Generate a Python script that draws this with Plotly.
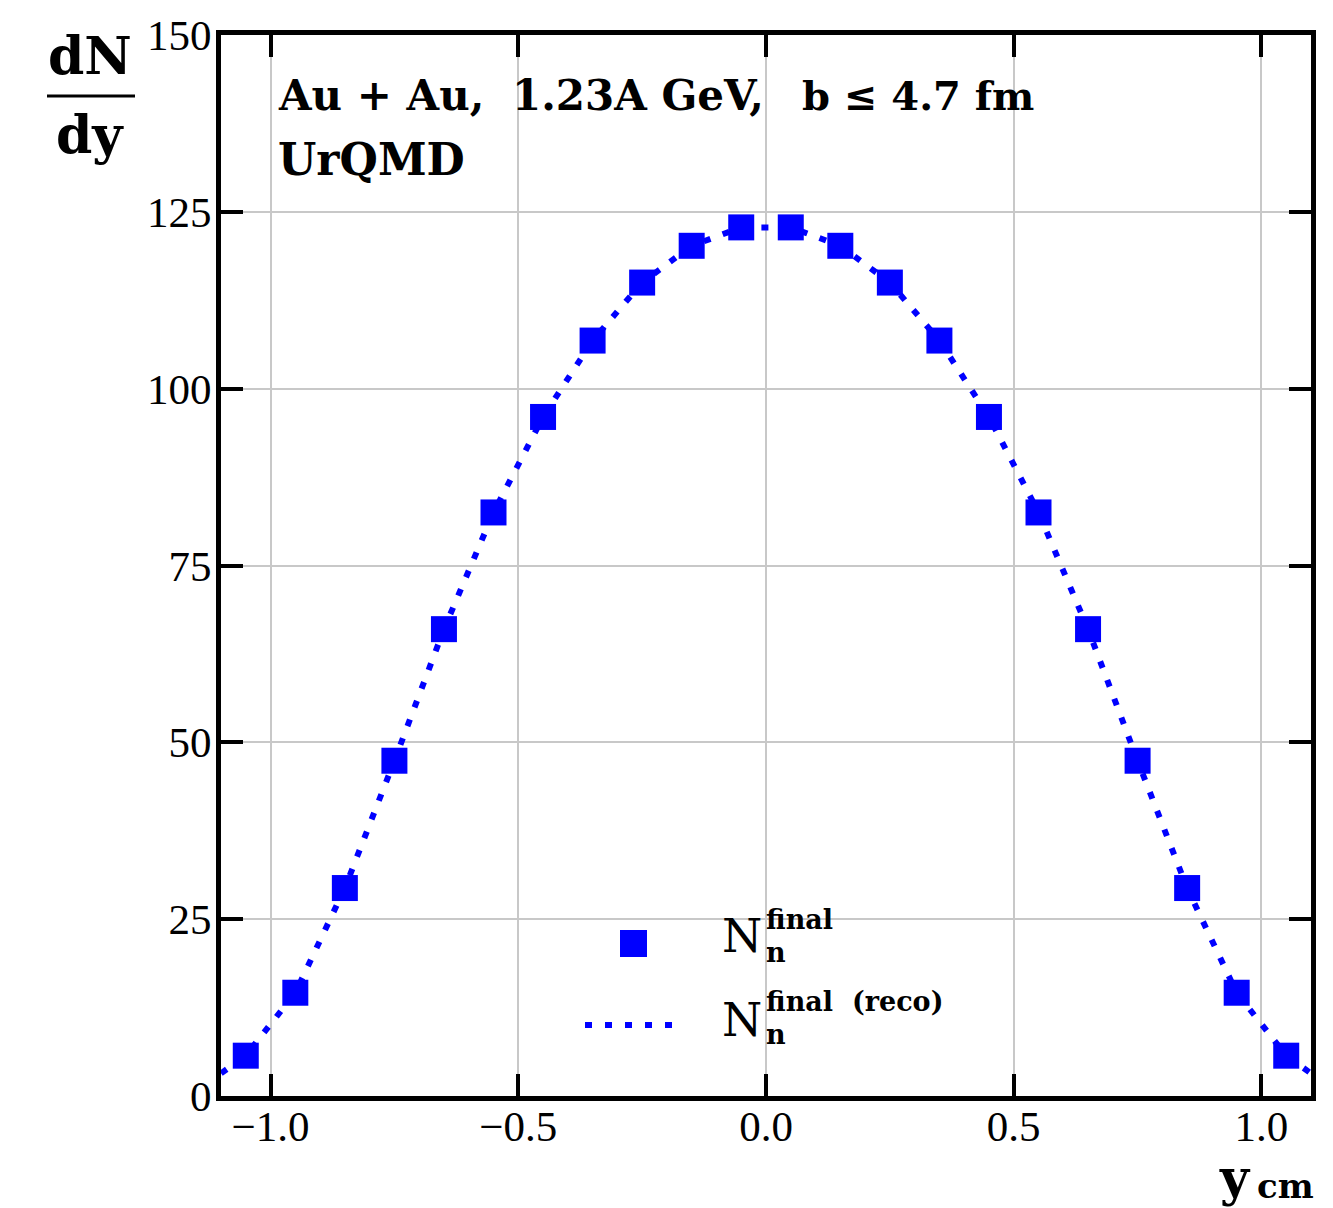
import plotly.graph_objects as go

y_cm = [-1.05, -0.95, -0.85, -0.75, -0.65, -0.55, -0.45, -0.35, -0.25, -0.15, -0.05,
        0.05, 0.15, 0.25, 0.35, 0.45, 0.55, 0.65, 0.75, 0.85, 0.95, 1.05]
dndy_final = [5.7, 14.6, 29.4, 47.4, 66.0, 82.5, 96.0, 106.8, 115.0, 120.2, 122.8,
              122.8, 120.2, 115.0, 106.8, 96.0, 82.5, 66.0, 47.4, 29.4, 14.6, 5.7]
y_reco = [-1.1] + y_cm + [1.1]
dndy_reco = [3.2] + dndy_final + [3.2]

x_ticks = [-1.0, -0.5, 0.0, 0.5, 1.0]
x_tick_labels = ["\u22121.0", "\u22120.5", "0.0", "0.5", "1.0"]
y_ticks = [0, 25, 50, 75, 100, 125, 150]
y_tick_labels = ["0", "25", "50", "75", "100", "125", "150"]

BLUE = "#0000ff"
FONT = "Liberation Serif"
SERIF = "DejaVu Serif"

fig = go.Figure()
fig.add_trace(go.Scatter(x=y_reco, y=dndy_reco, mode="lines",
                         line=dict(color=BLUE, width=6, dash="7px,13px"),
                         showlegend=False))
fig.add_trace(go.Scatter(x=y_cm, y=dndy_final, mode="markers",
                         marker=dict(symbol="square", size=26, color=BLUE),
                         showlegend=False))

axis_common = dict(showline=True, linecolor="black", linewidth=5, mirror="ticks",
                   ticks="inside", ticklen=22, tickwidth=4, tickcolor="black",
                   showgrid=True, gridcolor="#c8c8c8", gridwidth=1.5,
                   zeroline=False, tickfont=dict(family=FONT, size=43, color="black"))

fig.update_xaxes(range=[-1.1, 1.1], tickvals=x_ticks, ticktext=x_tick_labels,
                 ticklabelstandoff=-12, **axis_common)
fig.update_yaxes(range=[0, 150], tickvals=y_ticks, ticktext=y_tick_labels,
                 ticklabelstandoff=-4, **axis_common)

W, H = 1333, 1208
L, R, T, B = 221, 22, 35, 112
pw, ph = W - L - R, H - T - B

def px(x):
    return (x - L) / pw

def py(y):
    return (H - B - y) / ph

ann = []
def add_text(text, x, y, size, xanchor="left", yanchor="middle", family=SERIF):
    ann.append(dict(text=text, x=px(x), y=py(y), xref="paper", yref="paper",
                    xanchor=xanchor, yanchor=yanchor, showarrow=False,
                    font=dict(family=family, size=size, color="black")))

add_text("<b>Au + Au,</b>", 276, 96, 42)
add_text("<b>1.23A GeV,</b>", 510, 96, 42)
add_text("<b>b \u2264 4.7 fm</b>", 800, 96, 40)
add_text("<b>UrQMD</b>", 276, 160, 44)
# y-axis label as fraction
add_text("<b>dN</b>", 90, 55, 52, xanchor="center")
add_text("<b>dy</b>", 90, 135, 52, xanchor="center")
# x-axis label
add_text("<b>y</b>", 1253, 1177, 50, xanchor="right")
add_text("<b>cm</b>", 1255, 1186, 34, xanchor="left")
# legend texts
add_text("N", 720, 936, 46)
add_text("<b>final</b>", 764, 919, 27)
add_text("<b>n</b>", 764, 952, 27)
add_text("N", 720, 1020, 46)
add_text("<b>final</b>", 764, 1001, 27)
add_text("<b>(reco)</b>", 850, 1001, 27)
add_text("<b>n</b>", 764, 1034, 27)

shapes = [
    dict(type="line", xref="paper", yref="paper", x0=px(47), x1=px(135), y0=py(96), y1=py(96),
         line=dict(color="black", width=3)),
    dict(type="rect", xref="paper", yref="paper", x0=px(620), x1=px(647), y0=py(957), y1=py(930),
         line=dict(width=0), fillcolor=BLUE),
    dict(type="line", xref="paper", yref="paper", x0=px(585), x1=px(683), y0=py(1025), y1=py(1025),
         line=dict(color=BLUE, width=6, dash="7px,13px")),
]

fig.update_layout(width=W, height=H, margin=dict(l=L, r=R, t=T, b=B),
                  plot_bgcolor="white", paper_bgcolor="white",
                  annotations=ann, shapes=shapes, showlegend=False)

fig.write_html("out.html")
